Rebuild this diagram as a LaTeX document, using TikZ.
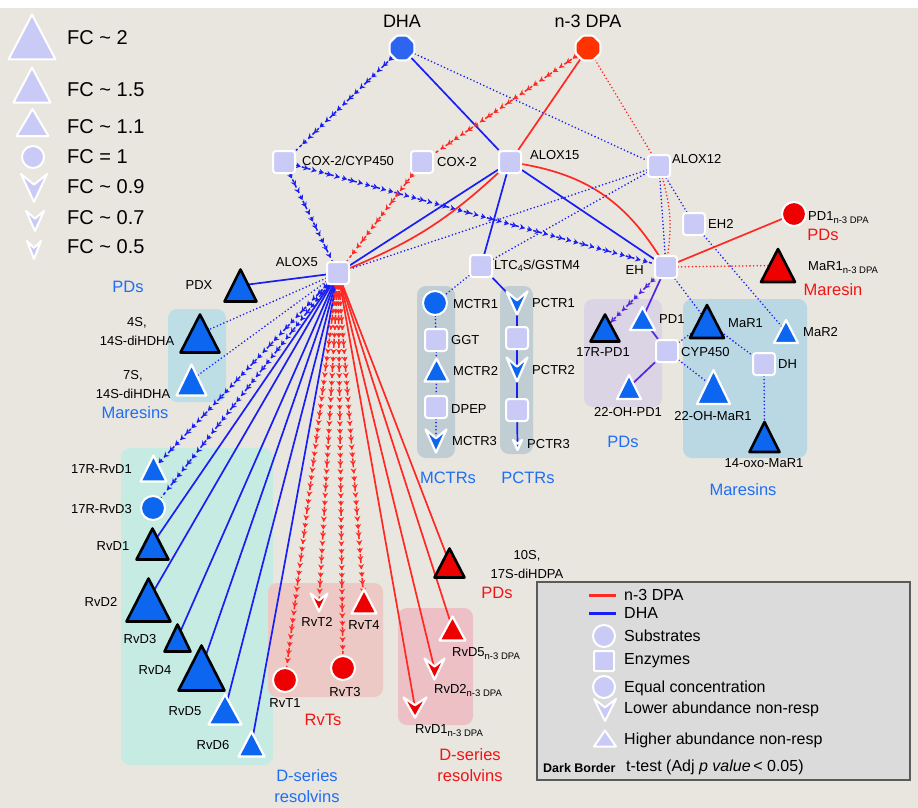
\documentclass[tikz,border=0pt]{standalone}
\usepackage{fontspec}
\setmainfont{Liberation Sans}
\usetikzlibrary{shapes.geometric,arrows.meta,decorations.markings}
\definecolor{bgc}{RGB}{233,230,224}
\definecolor{lav}{RGB}{202,202,247}
\definecolor{nb}{RGB}{12,102,240}
\definecolor{nr}{RGB}{238,0,0}
\definecolor{dhab}{RGB}{45,100,240}
\definecolor{dpar}{RGB}{255,50,0}
\definecolor{lb}{RGB}{25,30,245}
\definecolor{lr}{RGB}{255,40,35}
\definecolor{lp}{RGB}{85,35,230}
\definecolor{gblue}{RGB}{185,216,228}
\definecolor{gblue2}{RGB}{190,222,230}
\definecolor{gteal}{RGB}{197,235,226}
\definecolor{glav}{RGB}{218,212,228}
\definecolor{ggray}{RGB}{192,206,212}
\definecolor{gpink}{RGB}{236,201,196}
\definecolor{gpinkb}{RGB}{237,192,198}
\definecolor{legfill}{RGB}{219,219,219}
\definecolor{legdraw}{RGB}{90,90,90}
\definecolor{grpb}{RGB}{30,110,245}
\definecolor{grpr}{RGB}{240,20,20}
\pgfdeclarelayer{back}
\pgfdeclarelayer{edges}
\pgfsetlayers{back,edges,main}
\newcommand\fs[1]{\fontsize{#1}{#1}\selectfont}
\newcommand\trinode[6]{%
  \node[coordinate] (#1) at (#2,#3) {};
  \filldraw[#6] ({#2-#4/2},{#3+#5/2}) -- ({#2},{#3-#5/2}) -- ({#2+#4/2},{#3+#5/2}) -- cycle;}
\newcommand\chevnode[6]{%
  \node[coordinate] (#1) at (#2,#3) {};
  \filldraw[#6] ({#2-#4/2},{#3-#5/2}) -- ({#2},{#3-#5/2+0.38*#5}) -- ({#2+#4/2},{#3-#5/2}) -- ({#2},{#3+#5/2}) -- cycle;}
\newcommand\sub[1]{\raisebox{-3pt}{\fs{9.5}#1}}
\tikzset{
  wb/.style={fill=nb, draw=white, line width=2.2pt, line join=round},
  kb/.style={fill=nb, draw=black, line width=2.6pt, line join=round},
  wr/.style={fill=nr, draw=white, line width=2.2pt, line join=round},
  kr/.style={fill=nr, draw=black, line width=2.6pt, line join=round},
  wl/.style={fill=lav, draw=white, line width=2pt, line join=round},
  enz/.style={rectangle, rounded corners=3pt, minimum size=22pt, inner sep=0pt, fill=lav, draw=white, line width=2pt},
  cir/.style={circle, minimum size=24pt, inner sep=0pt, fill=#1, draw=white, line width=2pt},
  oct/.style={regular polygon, regular polygon sides=8, minimum size=27pt, inner sep=0pt, fill=#1, draw=white, line width=2pt, rounded corners=1.5pt},
  grpbox/.style={fill=#1, rounded corners=9pt},
  lab/.style={font=\fs{13}, inner sep=0pt},
  lab2/.style={font=\fontsize{13}{19}\selectfont, inner sep=0pt, align=center},
  legt/.style={font=\fs{16}, inner sep=0pt, anchor=west},
  fct/.style={font=\fs{20}, inner sep=0pt, anchor=west},
  ttl/.style={font=\fs{18}, inner sep=0pt},
  grp/.style={font=\fontsize{16.5}{21}\selectfont, text=#1, inner sep=0pt, align=center},
  sb/.style={draw=lb, line width=1.7pt},
  sr/.style={draw=lr, line width=1.7pt},
  sp/.style={draw=lp, line width=1.7pt},
  db/.style={draw=lb, line width=1.8pt, line cap=round, dash pattern=on 0pt off 3.6pt},
  dr/.style={draw=lr, line width=1.8pt, line cap=round, dash pattern=on 0pt off 3.6pt},
  arr/.style={draw=#1, line width=1.5pt, dash pattern=on 3pt off 3pt, postaction={decorate},
    decoration={markings, mark=between positions 5pt and -2pt step 8pt with {\arrow[#1]{Stealth[length=5pt,width=6pt]}}}},
}
\begin{document}
\begin{tikzpicture}[x=1pt,y=-1pt]
\useasboundingbox (0,0) rectangle (918,808);
\begin{pgfonlayer}{back}
\fill[white] (0,0) rectangle (918,808);
\fill[bgc] (0,8) rectangle (918,808);
\fill[grpbox=gteal] (121,448) rectangle (273,765);
\fill[grpbox=gblue2] (168,309) rectangle (226,402);
\fill[grpbox=ggray] (417,286) rectangle (455,458);
\fill[grpbox=ggray] (500,286) rectangle (533,454);
\fill[grpbox=glav] (584,299) rectangle (662,407);
\fill[grpbox=gblue] (683,299) rectangle (807,458);
\fill[grpbox=gpink] (268,583) rectangle (383,697);
\fill[grpbox=gpinkb] (398,608) rectangle (473,725);
\end{pgfonlayer}

% ---------- size legend ----------
\trinode{lf1}{32}{37}{47}{45}{wl}
\trinode{lf2}{32}{85}{37}{35}{wl}
\trinode{lf3}{32.5}{122.5}{32}{27}{wl}
\node[cir=lav, minimum size=22pt] (lf4) at (33,157) {};
\chevnode{lf5}{34}{188}{26}{28}{wl}
\chevnode{lf6}{35}{221}{18}{20}{wl}
\chevnode{lf7}{34}{250}{14}{18}{wl}
\node[fct] (lt1) at (67,38) {FC \textasciitilde{} 2};
\node[fct] (lt2) at (67,90) {FC \textasciitilde{} 1.5};
\node[fct] (lt3) at (67,127) {FC \textasciitilde{} 1.1};
\node[fct] (lt4) at (67,157) {FC = 1};
\node[fct] (lt5) at (67,187) {FC \textasciitilde{} 0.9};
\node[fct] (lt6) at (67,218) {FC \textasciitilde{} 0.7};
\node[fct] (lt7) at (67,247) {FC \textasciitilde{} 0.5};

% ---------- substrates & enzymes ----------
\node[oct=dhab] (dha) at (402,48) {};
\node[oct=dpar] (dpa) at (588,48) {};
\node[ttl] (dhat) at (402,21) {DHA};
\node[ttl] (dpat) at (588,21) {n-3 DPA};

\node[enz] (coxcyp) at (284,162) {};
\node[enz] (cox) at (422,162) {};
\node[enz] (alox15) at (510,162) {};
\node[enz] (alox12) at (659,166) {};
\node[enz] (eh2) at (694,224) {};
\node[enz] (eh) at (666,267) {};
\node[enz] (alox5) at (338,273) {};
\node[enz] (ltc) at (481,266) {};
\node[enz] (cyp) at (667,351) {};
\node[enz] (dh) at (764,364) {};
\node[enz] (ggt) at (436,340) {};
\node[enz] (dpep) at (436,407) {};
\node[enz] (psq1) at (517,338) {};
\node[enz] (psq2) at (517,410) {};

\node[lab, anchor=west] (coxcypt) at (302,161) {COX-2/CYP450};
\node[lab, anchor=west] (coxt) at (437,162) {COX-2};
\node[lab, anchor=west] (alox15t) at (530,155) {ALOX15};
\node[lab, anchor=west] (alox12t) at (672,159) {ALOX12};
\node[lab, anchor=west] (eh2t) at (708,224) {EH2};
\node[lab, anchor=east] (eht) at (644,270) {EH};
\node[lab, anchor=east] (alox5t) at (318,262) {ALOX5};
\node[lab, anchor=west] (ltct) at (494,266) {LTC\raisebox{-2.5pt}{\fs{9}4}S/GSTM4};
\node[lab, anchor=west] (cypt) at (681,352) {CYP450};
\node[lab, anchor=west] (dht) at (778,364) {DH};
\node[lab, anchor=west] (ggtt) at (451,340) {GGT};
\node[lab, anchor=west] (dpept) at (451,409) {DPEP};

% ---------- right side products ----------
\node[cir=nr] (pd1n) at (794,214) {};
\node[lab, anchor=west] (pd1nt) at (808,218) {PD1\sub{n-3 DPA}};
\node[grp=grpr] (pdsr1) at (823,235) {PDs};
\trinode{mar1n}{778}{265.5}{34}{33}{kr}
\node[lab, anchor=west] (mar1nt) at (808,268) {MaR1\sub{n-3 DPA}};
\node[grp=grpr] (maresinr) at (833,290) {Maresin};

\trinode{r17pd1}{605}{328}{29}{27}{kb}
\node[lab] (r17pd1t) at (603,352) {17R-PD1};
\trinode{pd1}{642.5}{318.5}{25}{23}{wb}
\node[lab, anchor=west] (pd1t) at (659,319) {PD1};
\trinode{oh22pd1}{629}{387}{24}{24}{wb}
\node[lab] (oh22pd1t) at (628,412) {22-OH-PD1};
\trinode{mar1}{707}{321.5}{34}{33}{kb}
\node[lab, anchor=west] (mar1t) at (728,323) {MaR1};
\trinode{mar2}{786}{331.5}{24}{23}{wb}
\node[lab, anchor=west] (mar2t) at (803,332) {MaR2};
\trinode{oh22mar1}{713.5}{387}{33}{34}{wb}
\node[lab] (oh22mar1t) at (713,416) {22-OH-MaR1};
\trinode{oxo}{764.5}{437}{30}{30}{kb}
\node[lab] (oxot) at (764,463) {14-oxo-MaR1};
\node[grp=grpb] (pdsb2) at (623,442) {PDs};
\node[grp=grpb] (maresb2) at (743,490) {Maresins};

% ---------- MCTR / PCTR ----------
\node[cir=nb] (mctr1) at (435,303) {};
\node[lab, anchor=west] (mctr1t) at (453,304) {MCTR1};
\trinode{mctr2}{436.5}{370}{24}{23}{wb}
\node[lab, anchor=west] (mctr2t) at (453,371) {MCTR2};
\chevnode{mctr3}{436}{441}{21}{23}{wb}
\node[lab, anchor=west] (mctr3t) at (452,441) {MCTR3};
\chevnode{pctr1}{517}{303}{21}{23}{wb}
\node[lab, anchor=west] (pctr1t) at (532,303) {PCTR1};
\chevnode{pctr2}{517}{369.5}{21}{24}{wb}
\node[lab, anchor=west] (pctr2t) at (532,370) {PCTR2};
\chevnode{pctr3}{517.5}{445}{9}{10}{wb}
\node[lab, anchor=west] (pctr3t) at (527,444) {PCTR3};
\node[grp=grpb] (mctrs) at (448,478) {MCTRs};
\node[grp=grpb] (pctrs) at (528,478) {PCTRs};

% ---------- left side products ----------
\trinode{pdx}{240.5}{285.5}{32}{32}{kb}
\node[lab] (pdxt) at (199,285) {PDX};
\node[grp=grpb] (pdsb1) at (128,287) {PDs};
\trinode{s4}{200}{333.5}{39}{38}{kb}
\node[lab2] (s4t) at (137,332) {4S,\\14S-diHDHA};
\trinode{s7}{191.5}{380}{30}{31}{wb}
\node[lab2] (s7t) at (133,385) {7S,\\14S-diHDHA};
\node[grp=grpb] (maresb1) at (135,413) {Maresins};

\trinode{r17rvd1}{153.5}{468.5}{26}{26}{wb}
\node[lab, anchor=east] (r17rvd1t) at (132,469) {17R-RvD1};
\node[cir=nb] (rvd3r) at (153,508) {};
\node[lab, anchor=east] (rvd3rt) at (132,509) {17R-RvD3};
\trinode{rvd1}{152.5}{544}{32}{31}{kb}
\node[lab] (rvd1t) at (113,546) {RvD1};
\trinode{rvd2}{148.5}{600}{44}{43}{kb}
\node[lab] (rvd2t) at (101,602) {RvD2};
\trinode{rvd3}{177.5}{638}{26}{27}{kb}
\node[lab] (rvd3t) at (140,639) {RvD3};
\trinode{rvd4}{201.5}{668}{46}{45}{kb}
\node[lab] (rvd4t) at (155,670) {RvD4};
\trinode{rvd5}{225}{709.5}{33}{30}{wb}
\node[lab] (rvd5t) at (185,711) {RvD5};
\trinode{rvd6}{251.5}{744}{26}{25}{wb}
\node[lab] (rvd6t) at (213,745) {RvD6};
\node[grp=grpb] (dserb) at (307,786) {D-series\\resolvins};

% ---------- bottom red products ----------
\node[cir=nr] (rvt1) at (285,680) {};
\node[lab] (rvt1t) at (285,703) {RvT1};
\chevnode{rvt2}{319}{602.5}{17}{18}{wr}
\node[lab] (rvt2t) at (317,622) {RvT2};
\node[cir=nr] (rvt3) at (343,668) {};
\node[lab] (rvt3t) at (345,692) {RvT3};
\trinode{rvt4}{364}{601.5}{25}{24}{wr}
\node[lab] (rvt4t) at (364,625) {RvT4};
\node[grp=grpr] (rvts) at (323,720) {RvTs};

\trinode{s10}{449.5}{563}{30}{29}{kr}
\node[lab2] (s10t) at (527,565) {10S,\\17S-diHDPA};
\node[grp=grpr] (pdsr2) at (497,593) {PDs};
\trinode{rvd5n}{452.5}{628.5}{26}{24}{wr}
\node[lab, anchor=west] (rvd5nt) at (452,654) {RvD5\sub{n-3 DPA}};
\chevnode{rvd2n}{434.5}{669}{20}{21}{wr}
\node[lab, anchor=west] (rvd2nt) at (434,690) {RvD2\sub{n-3 DPA}};
\chevnode{rvd1n}{415}{707.5}{23}{20}{wr}
\node[lab, anchor=west] (rvd1nt) at (415,731) {RvD1\sub{n-3 DPA}};
\node[grp=grpr] (dserr) at (470,765) {D-series\\resolvins};

% ---------- edges ----------
\begin{pgfonlayer}{edges}
\draw[arr=lb] (dha) -- (coxcyp);
\draw[sb] (dha) -- (alox15);
\draw[db] (dha) -- (alox12);
\draw[arr=lr] (dpa) -- (cox);
\draw[sr] (dpa) -- (alox15);
\draw[dr] (dpa) -- (alox12);
\draw[arr=lb] (coxcyp) -- (alox5);
\draw[arr=lb] (coxcyp) -- (eh);
\draw[arr=lr] (cox) -- (alox5);
\draw[sb] (alox15) -- (alox5);
\draw[sr] (alox15) to[bend left=10] (alox5);
\draw[sb] (alox15) -- (ltc);
\draw[sb] (alox15) -- (eh);
\draw[sr] (alox15) to[bend left=24] (eh);
\draw[db] (alox12) -- (alox5);
\draw[db] (alox12) -- (ltc);
\draw[db] (alox12) -- (eh);
\draw[dr] (alox12) to[bend left=12] (eh);
\draw[db] (alox12) -- (eh2);
\draw[db] (eh2) -- (mar2);
\draw[sr] (eh) -- (pd1n);
\draw[dr] (eh) -- (mar1n);
\draw[arr=lp] (eh) -- (r17pd1);
\draw[sp] (eh) -- (pd1);
\draw[db] (eh) -- (mar1);
\draw[sp] (pd1) -- (cyp);
\draw[sp] (cyp) -- (oh22pd1);
\draw[db] (cyp) -- (mar1);
\draw[db] (cyp) -- (oh22mar1);
\draw[db] (mar1) -- (dh);
\draw[db] (dh) -- (oxo);
\draw[db] (ltc) -- (mctr1);
\draw[sb] (ltc) -- (pctr1);
\draw[db] (mctr1) -- (ggt);
\draw[db] (ggt) -- (mctr2);
\draw[db] (mctr2) -- (dpep);
\draw[db] (dpep) -- (mctr3);
\draw[sb] (pctr1) -- (psq1);
\draw[sb] (psq1) -- (pctr2);
\draw[sb] (pctr2) -- (psq2);
\draw[sb] (psq2) -- (pctr3);
\draw[sb] (alox5) -- (pdx);
\draw[db] (alox5) -- (s4);
\draw[db] (alox5) -- (s7);
\draw[arr=lb] (alox5) -- (r17rvd1);
\draw[arr=lb] (alox5) -- (rvd3r);
\foreach \t in {rvd1,rvd2,rvd3,rvd4,rvd5,rvd6}{\draw[sb] (alox5) -- (\t);}
\foreach \t in {rvt1,rvt2,rvt3,rvt4}{\draw[arr=lr] (alox5) -- (\t);}
\foreach \t in {s10,rvd5n,rvd2n,rvd1n}{\draw[sr] (alox5) -- (\t);}
\end{pgfonlayer}

% ---------- legend box ----------
\node[draw=legdraw, fill=legfill, line width=1.2pt, minimum width=373pt, minimum height=198pt, inner sep=0pt] (legbox) at (723.5,681) {};
\coordinate (lra) at (589,595);
\coordinate (lrb) at (616,595);
\coordinate (lba) at (589,613);
\coordinate (lbb) at (616,613);
\draw[draw=lr, line width=3pt] (lra) -- (lrb);
\draw[draw=lb, line width=3pt] (lba) -- (lbb);
\node[legt] (lgt1) at (624,595) {n-3 DPA};
\node[legt] (lgt2) at (624,613) {DHA};
\node[cir=lav, minimum size=22pt] (lgs1) at (604,636) {};
\node[legt] (lgt3) at (624,636) {Substrates};
\node[enz, minimum size=20pt, rounded corners=1pt] (lgs2) at (604,661) {};
\node[legt] (lgt4) at (624,661) {Enzymes};
\node[cir=lav, minimum size=22pt] (lgs3) at (604,687) {};
\node[legt] (lgt5) at (624,688) {Equal concentration};
\chevnode{lgs4}{605}{710}{22}{22}{wl}
\node[legt] (lgt6) at (624,709) {Lower abundance non-resp};
\trinode{lgs5}{605}{738.5}{22}{16}{wl}
\node[legt] (lgt7) at (624,740) {Higher abundance non-resp};
\node[font=\bfseries\fs{12.5}, inner sep=0pt, anchor=west] (lgt8) at (543,768) {Dark Border};
\node[legt] (lgt9) at (626,767) {t-test (Adj \textit{p value}\,< 0.05)};
\end{tikzpicture}
\end{document}
